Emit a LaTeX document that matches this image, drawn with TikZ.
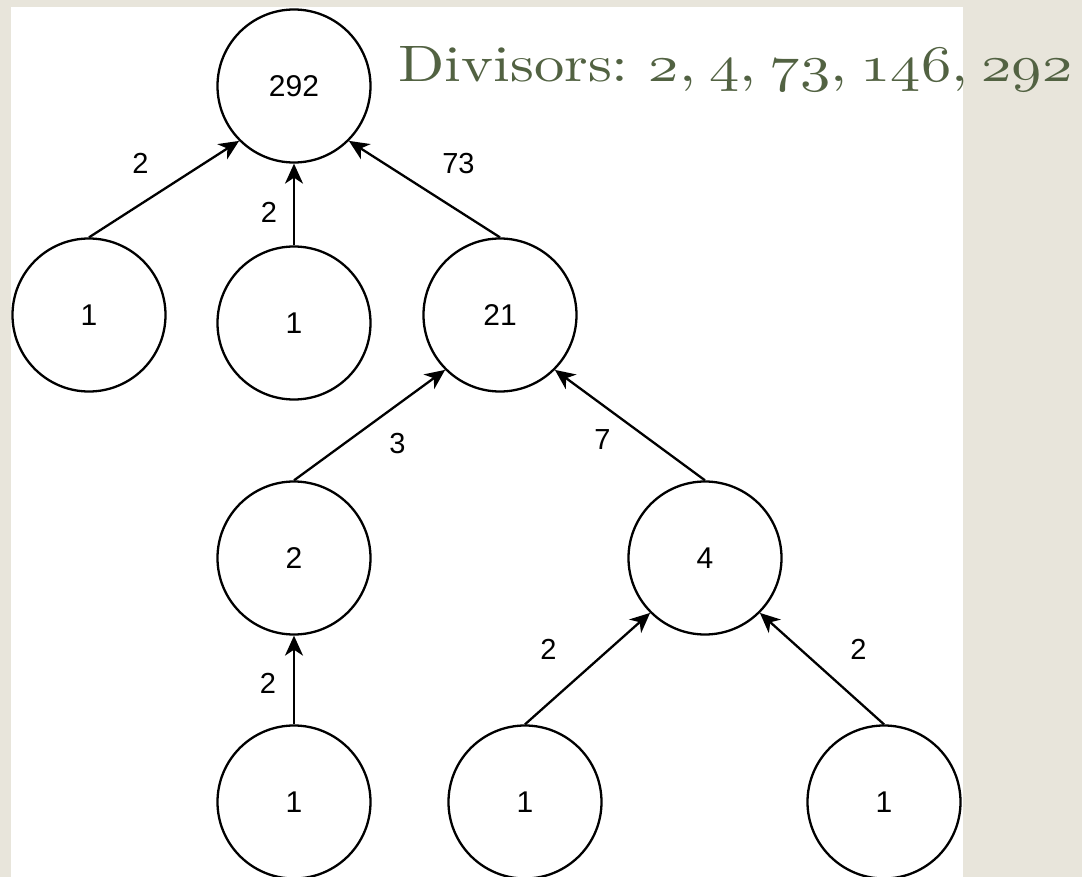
\documentclass[tikz,border=0pt]{standalone}
\usepackage{fontspec}
\usepackage{graphicx}
\newfontfamily\nodefont{Liberation Sans}
\usetikzlibrary{arrows.meta}
\definecolor{paper}{RGB}{232,229,219}
\definecolor{olive}{RGB}{82,98,66}
% hanging (old-style) figures taken from the math italic font
\newcommand{\osfig}[1]{\ensuremath{\mathnormal{#1}}}
\begin{document}
\begin{tikzpicture}[x=1pt,y=-1pt,
  num/.style={circle,draw=black,line width=2.3pt,minimum size=153pt,inner sep=0pt,
    font=\nodefont\fontsize{30}{30}\selectfont},
  edge/.style={line width=2.3pt,-{Stealth[length=20pt,width=18pt,inset=6pt]}},
  lbl/.style={font=\nodefont\fontsize{29}{29}\selectfont,inner sep=0pt}]
  % paper and white sheet
  \fill[paper] (0,0) rectangle (1082,877);
  \fill[white] (11,7) rectangle (963,877);
  \useasboundingbox (0,0) rectangle (1082,877);

  % tree nodes
  \node[num] (root) at (294,86)  {292};
  \node[num] (a)    at (89,315)  {1};
  \node[num] (b)    at (294,323) {1};
  \node[num] (c)    at (500,315) {21};
  \node[num] (d)    at (294,558) {2};
  \node[num] (e)    at (705,558) {4};
  \node[num] (f)    at (294,802) {1};
  \node[num] (g)    at (525,802) {1};
  \node[num] (h)    at (884,802) {1};

  % edges with factor labels
  \draw[edge] (a.north) -- node[lbl,shift={(-23.5,-26)}] {2} (root.south west);
  \draw[edge] (b.north) -- node[lbl,shift={(-25,8)}] {2} (root.south);
  \draw[edge] (c.north) -- node[lbl,shift={(34,-26)}] {73} (root.south east);
  \draw[edge] (d.north) -- node[lbl,shift={(28,18)}] {3} (c.south west);
  \draw[edge] (e.north) -- node[lbl,shift={(-27.5,14)}] {7} (c.south east);
  \draw[edge] (f.north) -- node[lbl,shift={(-26,3)}] {2} (d.south);
  \draw[edge] (g.north) -- node[lbl,shift={(-39,-19)}] {2} (e.south west);
  \draw[edge] (h.north) -- node[lbl,shift={(36.5,-19)}] {2} (e.south east);

  % list of divisors
  \node[anchor=base west,inner sep=0pt,text=olive] (divs) at (398,82)
    {\resizebox{674pt}{35pt}{\addfontfeatures{FakeBold=0.8}\spaceskip=0.22em\relax
      Divisors: \osfig{2}, \osfig{4}, \osfig{73}, \osfig{146}, \osfig{292}}};
\end{tikzpicture}
\end{document}
